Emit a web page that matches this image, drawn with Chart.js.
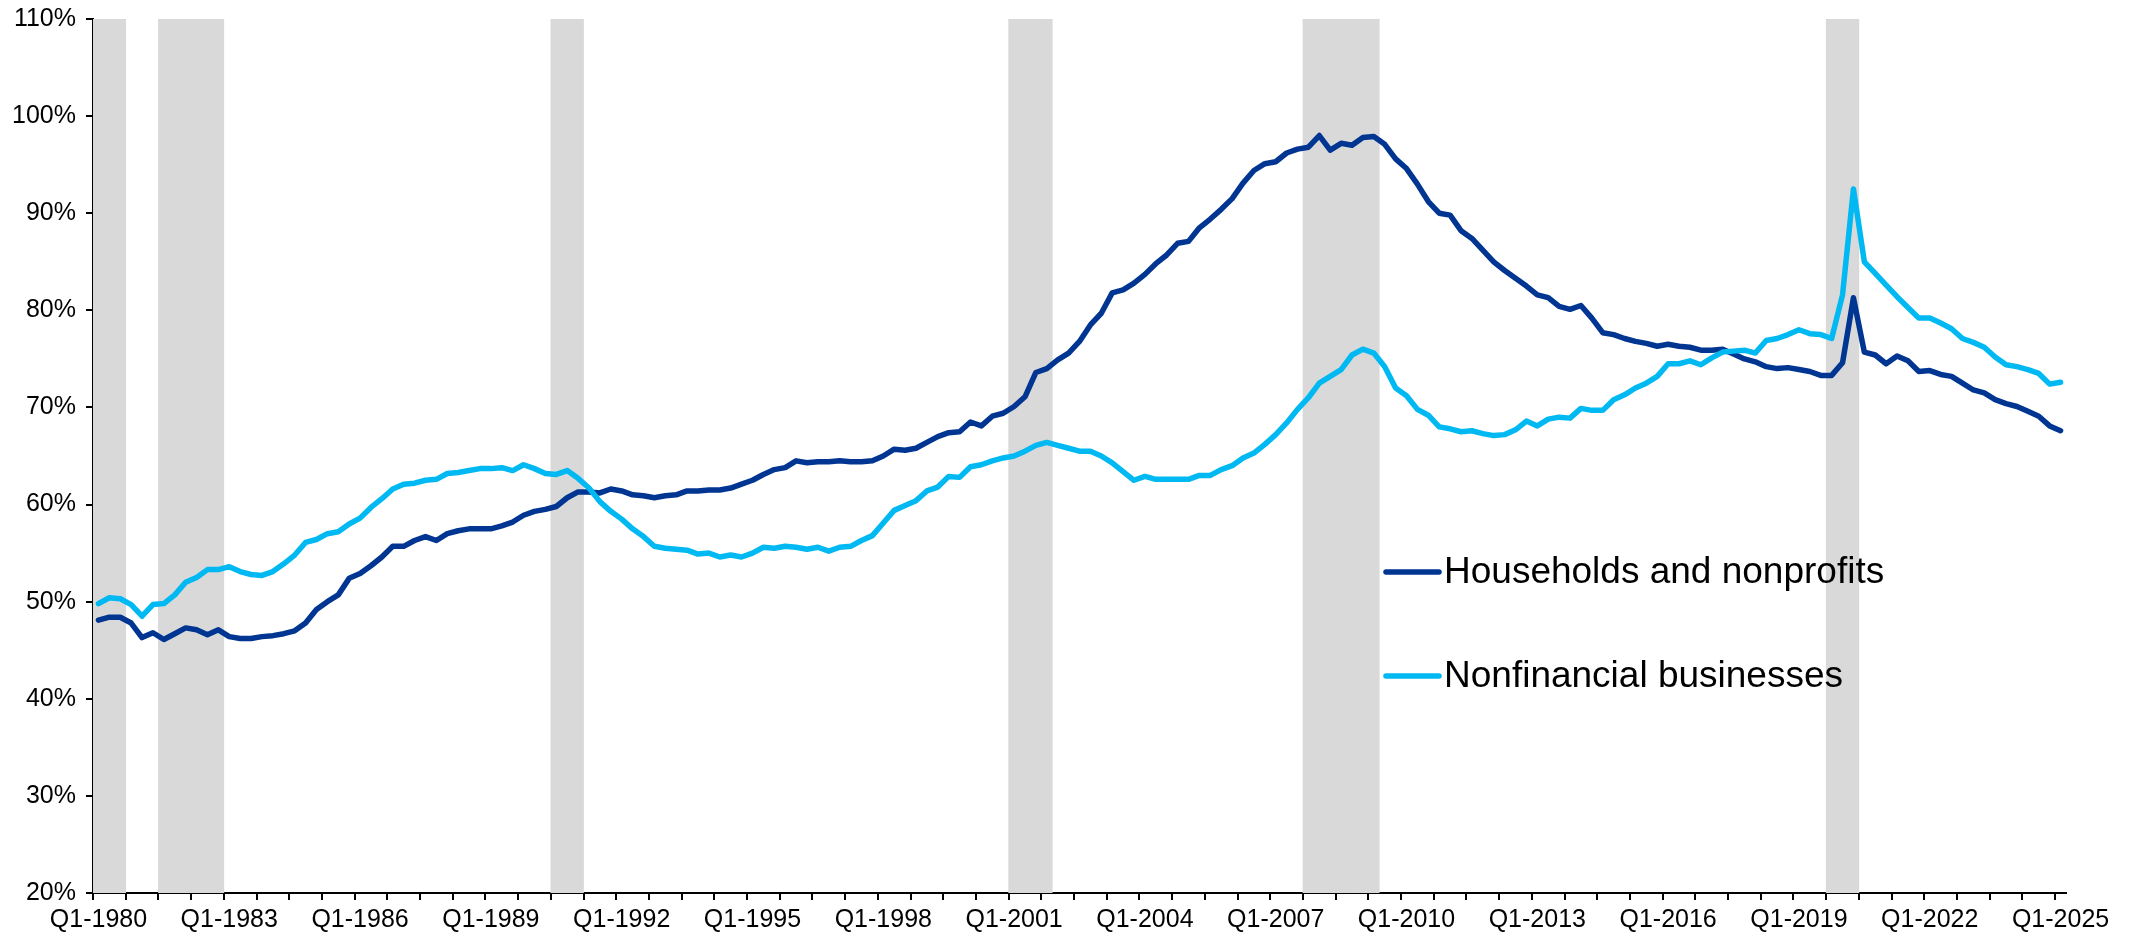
<!DOCTYPE html>
<html>
<head>
<meta charset="utf-8">
<script src="https://cdn.jsdelivr.net/npm/chart.js@4.4.1/dist/chart.umd.min.js"></script>
<style>
  html, body { margin: 0; padding: 0; background: #fff; }
  #wrap { position: relative; width: 2129px; height: 936px; }
</style>
</head>
<body>
<div id="wrap"><canvas id="debtChart"></canvas></div>
<script>
// 분기 라벨: Q1-1980 ~ Q1-2025
const firstYear = 1980;
const quarterCount = 181;
const quarters = [];
for (let i = 0; i < quarterCount; i++) {
  quarters.push('Q' + (i % 4 + 1) + '-' + (firstYear + Math.floor(i / 4)));
}

// 가계 및 비영리단체 (%)
const households = [
  48.1, 48.4, 48.4, 47.8, 46.3, 46.8, 46.1, 46.7, 47.3, 47.1, 46.6, 47.1,
  46.4, 46.2, 46.2, 46.4, 46.5, 46.7, 47.0, 47.8, 49.2, 50.0, 50.7, 52.4,
  52.9, 53.7, 54.6, 55.7, 55.7, 56.3, 56.7, 56.3, 57.0, 57.3, 57.5, 57.5,
  57.5, 57.8, 58.2, 58.9, 59.3, 59.5, 59.8, 60.7, 61.3, 61.3, 61.2, 61.6,
  61.4, 61.0, 60.9, 60.7, 60.9, 61.0, 61.4, 61.4, 61.5, 61.5, 61.7, 62.1,
  62.5, 63.1, 63.6, 63.8, 64.5, 64.3, 64.4, 64.4, 64.5, 64.4, 64.4, 64.5,
  65.0, 65.7, 65.6, 65.8, 66.4, 67.0, 67.4, 67.5, 68.5, 68.1, 69.1, 69.4,
  70.1, 71.1, 73.6, 74.0, 74.9, 75.6, 76.8, 78.5, 79.7, 81.8, 82.1, 82.8,
  83.7, 84.8, 85.7, 86.9, 87.1, 88.5, 89.4, 90.4, 91.5, 93.1, 94.4, 95.1,
  95.3, 96.2, 96.6, 96.8, 98.0, 96.5, 97.2, 97.0, 97.8, 97.9, 97.1, 95.6,
  94.6, 93.0, 91.2, 90.0, 89.8, 88.2, 87.4, 86.2, 85.0, 84.1, 83.3, 82.5,
  81.6, 81.3, 80.4, 80.1, 80.5, 79.2, 77.7, 77.5, 77.1, 76.8, 76.6, 76.3,
  76.5, 76.3, 76.2, 75.9, 75.9, 76.0, 75.5, 75.0, 74.7, 74.2, 74.0, 74.1,
  73.9, 73.7, 73.3, 73.3, 74.6, 81.3, 75.7, 75.4, 74.5, 75.3, 74.8, 73.7,
  73.8, 73.4, 73.2, 72.5, 71.8, 71.5, 70.8, 70.4, 70.1, 69.6, 69.1, 68.1,
  67.6
];

// 비금융 기업 (%)
const businesses = [
  49.8, 50.4, 50.3, 49.7, 48.5, 49.7, 49.8, 50.7, 52.0, 52.5, 53.3, 53.3,
  53.6, 53.1, 52.8, 52.7, 53.1, 53.9, 54.8, 56.1, 56.4, 57.0, 57.2, 58.0,
  58.6, 59.7, 60.6, 61.6, 62.1, 62.2, 62.5, 62.6, 63.2, 63.3, 63.5, 63.7,
  63.7, 63.8, 63.5, 64.1, 63.7, 63.2, 63.1, 63.5, 62.7, 61.7, 60.3, 59.3,
  58.5, 57.5, 56.7, 55.7, 55.5, 55.4, 55.3, 54.9, 55.0, 54.6, 54.8, 54.6,
  55.0, 55.6, 55.5, 55.7, 55.6, 55.4, 55.6, 55.2, 55.6, 55.7, 56.3, 56.8,
  58.1, 59.4, 59.9, 60.4, 61.4, 61.8, 62.9, 62.8, 63.9, 64.1, 64.5, 64.8,
  65.0, 65.5, 66.1, 66.4, 66.1, 65.8, 65.5, 65.5, 65.0, 64.3, 63.4, 62.5,
  62.9, 62.6, 62.6, 62.6, 62.6, 63.0, 63.0, 63.6, 64.0, 64.8, 65.3, 66.2,
  67.2, 68.4, 69.8, 71.0, 72.5, 73.2, 73.9, 75.4, 76.0, 75.6, 74.2, 72.0,
  71.2, 69.8, 69.2, 68.0, 67.8, 67.5, 67.6, 67.3, 67.1, 67.2, 67.7, 68.6,
  68.1, 68.8, 69.0, 68.9, 69.9, 69.7, 69.7, 70.8, 71.3, 72.0, 72.5, 73.2,
  74.5, 74.5, 74.8, 74.4, 75.1, 75.7, 75.8, 75.9, 75.6, 76.9, 77.1, 77.5,
  78.0, 77.6, 77.5, 77.1, 81.6, 92.5, 85.0, 83.8, 82.6, 81.4, 80.3, 79.2,
  79.2, 78.7, 78.1, 77.1, 76.7, 76.2, 75.2, 74.4, 74.2, 73.9, 73.5, 72.4,
  72.6
];

// 경기침체 구간 (시작 분기, 끝 분기)
const recessions = [
  ['Q1-1980', 'Q3-1980'],
  ['Q3-1981', 'Q4-1982'],
  ['Q3-1990', 'Q1-1991'],
  ['Q1-2001', 'Q4-2001'],
  ['Q4-2007', 'Q2-2009'],
  ['Q4-2019', 'Q2-2020']
];

const yMin = 20;
const yMax = 110;
const yStep = 10;

const labelFont = '"Liberation Sans", Arial, sans-serif';

// 경기침체 음영용 막대 데이터
const recessionBars = quarters.map(() => null);
recessions.forEach(([from, to]) => {
  const a = quarters.indexOf(from);
  const b = quarters.indexOf(to);
  for (let i = a; i <= b; i++) recessionBars[i] = yMax;
});

// 차트 안쪽 범례
const insideLegend = {
  id: 'insideLegend',
  afterDraw(chart) {
    const ctx = chart.ctx;
    const items = chart.data.datasets.filter(ds => ds.type === 'line');
    ctx.save();
    ctx.font = '37px ' + labelFont;
    ctx.textBaseline = 'middle';
    ctx.textAlign = 'left';
    ctx.lineCap = 'round';
    ctx.lineWidth = 5.5;
    items.forEach((ds, i) => {
      const y = 572 + i * 104;
      ctx.strokeStyle = ds.borderColor;
      ctx.beginPath();
      ctx.moveTo(1386, y);
      ctx.lineTo(1439, y);
      ctx.stroke();
      ctx.fillStyle = '#000';
      ctx.fillText(ds.label, 1444, y + 1);
    });
    ctx.restore();
  }
};

const ctx = document.getElementById('debtChart').getContext('2d');

new Chart(ctx, {
  data: {
    labels: quarters,
    datasets: [
      {
        type: 'line',
        label: 'Households and nonprofits',
        data: households,
        borderColor: '#003591',
        borderWidth: 5.5,
        pointRadius: 0,
        tension: 0,
        borderJoinStyle: 'round',
        borderCapStyle: 'round',
        order: 2
      },
      {
        type: 'line',
        label: 'Nonfinancial businesses',
        data: businesses,
        borderColor: '#00B9F2',
        borderWidth: 5.5,
        pointRadius: 0,
        tension: 0,
        borderJoinStyle: 'round',
        borderCapStyle: 'round',
        order: 1
      },
      {
        type: 'bar',
        label: 'Recession',
        data: recessionBars,
        backgroundColor: '#D9D9D9',
        borderWidth: 0,
        barPercentage: 1,
        categoryPercentage: 1,
        order: 3
      }
    ]
  },
  options: {
    responsive: true,
    maintainAspectRatio: false,
    animation: false,
    layout: { padding: { top: 19, right: 63, left: 0, bottom: 0 } },
    plugins: {
      legend: { display: false },
      tooltip: { enabled: false }
    },
    scales: {
      x: {
        type: 'category',
        offset: true,
        afterFit: scale => { scale.height = 43; },
        border: { display: true, color: '#000', width: 2 },
        grid: {
          offset: true,
          drawOnChartArea: false,
          drawTicks: true,
          tickLength: 7,
          lineWidth: 2,
          color: c => (c.index % 3 === 0 ? '#000' : 'rgba(0,0,0,0)')
        },
        ticks: {
          autoSkip: false,
          maxRotation: 0,
          minRotation: 0,
          padding: 5,
          color: '#000',
          font: { family: labelFont, size: 25 },
          callback: (value, index) => (index % 12 === 0 ? quarters[index] : '')
        }
      },
      y: {
        min: yMin,
        max: yMax,
        afterFit: scale => {
          scale.width = 93;
          scale.paddingTop = 0;
          scale.paddingBottom = 0;
        },
        border: { display: true, color: '#000', width: 2 },
        grid: {
          drawOnChartArea: false,
          drawTicks: true,
          tickLength: 7,
          lineWidth: 2,
          color: '#000'
        },
        ticks: {
          stepSize: yStep,
          padding: 10,
          color: '#000',
          font: { family: labelFont, size: 25 },
          callback: value => value + '%'
        }
      }
    }
  },
  plugins: [insideLegend]
});
</script>
</body>
</html>
